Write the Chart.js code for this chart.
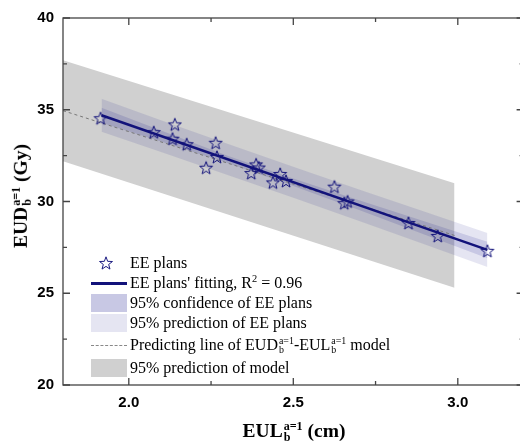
<!DOCTYPE html>
<html>
<head>
<meta charset="utf-8">
<script src="https://cdn.jsdelivr.net/npm/chart.js@4.4.1/dist/chart.umd.min.js"></script>
<style>
    html, body { margin: 0; padding: 0; background: #fff; overflow: hidden; }
    #wrap { position: relative; width: 520px; height: 448px; overflow: hidden; }
    #chart { position: absolute; left: 0; top: 0; }
    .serif { font-family: "Times New Roman", "Liberation Serif", serif; color: #000; white-space: nowrap; }
    .ss { display: inline-flex; flex-direction: column; font-size: 0.62em; line-height: 0.88; vertical-align: 0.58em; margin-left: 1px; }
    .axis-title { position: absolute; font-weight: bold; font-size: 19.5px; }
    .leg-text { position: absolute; left: 130px; font-size: 16px; line-height: 20px; }
    .leg-box { position: absolute; left: 91px; width: 36px; }
</style>
</head>
<body>
<div id="wrap">
    <canvas id="chart" width="530" height="448"></canvas>

    <div class="axis-title serif" id="yTitle" style="left:21px; top:196px; transform: translate(-50%, -50%) rotate(-90deg);">
        EUD<span class="ss"><span>a=1</span><span>b</span></span> (Gy)
    </div>
    <div class="axis-title serif" style="left:294px; top:431px; transform: translate(-50%, -50%);">
        EUL<span class="ss"><span>a=1</span><span>b</span></span> (cm)
    </div>

    <svg style="position:absolute; left:98px; top:255px;" width="16" height="16">
        <polygon id="legStar" fill="none" stroke="#1a1a80" stroke-width="1"></polygon>
    </svg>
    <div class="leg-text serif" style="top:253px;">EE plans</div>

    <div class="leg-box" style="top:282px; height:2.5px; background:#12127a;"></div>
    <div class="leg-text serif" style="top:273px;">EE plans' fitting, R<sup style="font-size:0.65em; line-height:0;">2</sup> = 0.96</div>

    <div class="leg-box" style="top:294px; height:18px; background:rgba(0,0,128,0.216);"></div>
    <div class="leg-text serif" style="top:293px;">95% confidence of EE plans</div>

    <div class="leg-box" style="top:314px; height:18px; background:rgba(0,0,128,0.1);"></div>
    <div class="leg-text serif" style="top:313px;">95% prediction of EE plans</div>

    <div class="leg-box" style="top:345px; height:0; border-top:1px dashed #888;"></div>
    <div class="leg-text serif" style="top:335px;">Predicting line of EUD<span class="ss"><span>a=1</span><span>b</span></span>-EUL<span class="ss"><span>a=1</span><span>b</span></span> model</div>

    <div class="leg-box" style="top:359px; height:18px; background:#d0d0d0;"></div>
    <div class="leg-text serif" style="top:358px;">95% prediction of model</div>
</div>

<script>
// EE plans
const eeX = [1.914, 2.076, 2.140, 2.133, 2.176, 2.264, 2.268, 2.235, 2.372, 2.387,
             2.395, 2.460, 2.438, 2.478, 2.625, 2.655, 2.665, 2.850, 2.939, 3.090];
const eeY = [34.54, 33.78, 34.20, 33.42, 33.12, 33.20, 32.43, 31.84, 31.55, 32.02,
             31.85, 31.50, 31.04, 31.12, 30.81, 29.91, 30.00, 28.83, 28.12, 27.31];

// fitted line of EE plans
const fitX = [1.917, 3.09];
const fitY = [34.70, 27.36];

// confidence / prediction bands of EE plans
const bandX     = [1.917, 2.1, 2.3, 2.5, 2.7, 2.9, 3.09];
const confUpper = [35.11, 33.85, 32.50, 31.25, 30.07, 28.91, 27.81];
const confLower = [34.29, 33.25, 32.10, 30.85, 29.53, 28.19, 26.91];
const predUpper = [35.60, 34.42, 33.15, 31.90, 30.66, 29.44, 28.29];
const predLower = [33.80, 32.68, 31.45, 30.20, 28.94, 27.66, 26.43];

// model predicting line and its 95% prediction band
const modelX     = [1.8, 2.99];
const modelLine  = [34.95, 28.15];
const modelUpper = [37.70, 31.00];
const modelLower = [32.20, 25.30];

const xTicks = [2.0, 2.5, 3.0];
const xMinor = [2.25, 2.75];
const yTicks = [20, 25, 30, 35, 40];
const yMinor = [22.5, 27.5, 32.5, 37.5];

const navy = '#12127a';

function pts(xs, ys) {
    return xs.map((x, i) => ({ x: x, y: ys[i] }));
}

function starPath(ctx, cx, cy, outer, inner) {
    ctx.beginPath();
    for (let i = 0; i < 10; i++) {
        const r = i % 2 === 0 ? outer : inner;
        const a = -Math.PI / 2 + i * Math.PI / 5;
        const px = cx + r * Math.cos(a);
        const py = cy + r * Math.sin(a);
        if (i === 0) ctx.moveTo(px, py); else ctx.lineTo(px, py);
    }
    ctx.closePath();
}

// hollow five point star used as point style
const starImg = document.createElement('canvas');
starImg.width = 16;
starImg.height = 16;
(function () {
    const c = starImg.getContext('2d');
    c.strokeStyle = navy;
    c.lineWidth = 1;
    starPath(c, 8, 8.6, 6.8, 2.8);
    c.stroke();
})();

// same star for the legend
(function () {
    const p = [];
    for (let i = 0; i < 10; i++) {
        const r = i % 2 === 0 ? 6.8 : 2.8;
        const a = -Math.PI / 2 + i * Math.PI / 5;
        p.push((8 + r * Math.cos(a)).toFixed(2) + ',' + (8.6 + r * Math.sin(a)).toFixed(2));
    }
    document.getElementById('legStar').setAttribute('points', p.join(' '));
})();

// frame with inward ticks, like Origin
const framePlugin = {
    id: 'frame',
    afterDatasetsDraw(chart) {
        const { ctx, chartArea: a, scales } = chart;
        const xs = scales.x, ys = scales.y;
        ctx.save();
        ctx.strokeStyle = '#444';
        ctx.lineWidth = 1.3;
        ctx.strokeRect(a.left, a.top, a.right - a.left, a.bottom - a.top);
        ctx.beginPath();
        const tick = (vals, len) => {
            vals.forEach(v => {
                const px = xs.getPixelForValue(v);
                ctx.moveTo(px, a.bottom); ctx.lineTo(px, a.bottom - len);
                ctx.moveTo(px, a.top); ctx.lineTo(px, a.top + len);
            });
        };
        const ytick = (vals, len) => {
            vals.forEach(v => {
                const py = ys.getPixelForValue(v);
                ctx.moveTo(a.left, py); ctx.lineTo(a.left + len, py);
                ctx.moveTo(a.right, py); ctx.lineTo(a.right - len, py);
            });
        };
        tick(xTicks, 7);
        tick(xMinor, 4);
        ytick(yTicks, 7);
        ytick(yMinor, 4);
        ctx.stroke();
        ctx.restore();
    }
};

const tickFont = { family: "Arial, 'Liberation Sans', sans-serif", size: 15, weight: 'bold' };

new Chart(document.getElementById('chart'), {
    type: 'scatter',
    data: {
        datasets: [
            {
                label: 'EE plans',
                data: pts(eeX, eeY),
                pointStyle: starImg,
                showLine: false,
                order: 0
            },
            {
                label: "EE plans' fitting",
                data: pts(fitX, fitY),
                showLine: true,
                borderColor: navy,
                borderWidth: 2.5,
                pointRadius: 0,
                order: 1
            },
            {
                label: 'Predicting line',
                data: pts(modelX, modelLine),
                showLine: true,
                borderColor: '#777',
                borderWidth: 1,
                borderDash: [3, 3],
                pointRadius: 0,
                order: 2
            },
            {
                label: 'conf upper',
                data: pts(bandX, confUpper),
                showLine: true,
                borderWidth: 0,
                pointRadius: 0,
                fill: '+1',
                backgroundColor: 'rgba(0,0,128,0.13)',
                order: 3
            },
            {
                label: 'conf lower',
                data: pts(bandX, confLower),
                showLine: true,
                borderWidth: 0,
                pointRadius: 0,
                order: 3
            },
            {
                label: 'pred upper',
                data: pts(bandX, predUpper),
                showLine: true,
                borderWidth: 0,
                pointRadius: 0,
                fill: '+1',
                backgroundColor: 'rgba(0,0,128,0.1)',
                order: 4
            },
            {
                label: 'pred lower',
                data: pts(bandX, predLower),
                showLine: true,
                borderWidth: 0,
                pointRadius: 0,
                order: 4
            },
            {
                label: 'model upper',
                data: pts(modelX, modelUpper),
                showLine: true,
                borderWidth: 0,
                pointRadius: 0,
                fill: '+1',
                backgroundColor: '#d0d0d0',
                order: 5
            },
            {
                label: 'model lower',
                data: pts(modelX, modelLower),
                showLine: true,
                borderWidth: 0,
                pointRadius: 0,
                order: 5
            }
        ]
    },
    options: {
        responsive: false,
        animation: false,
        devicePixelRatio: 1,
        layout: { padding: { top: 15, right: 6.4, left: 0, bottom: 0 } },
        plugins: {
            legend: { display: false },
            tooltip: { enabled: false }
        },
        scales: {
            x: {
                type: 'linear',
                min: 1.8,
                max: 3.2,
                grid: { display: false, drawTicks: false },
                border: { display: false },
                afterBuildTicks: s => { s.ticks = xTicks.map(v => ({ value: v })); },
                afterFit: s => { s.height = 63; },
                ticks: {
                    font: tickFont,
                    color: '#000',
                    padding: 9,
                    maxRotation: 0,
                    callback: v => Number(v).toFixed(1)
                }
            },
            y: {
                type: 'linear',
                min: 20,
                max: 40,
                grid: { display: false, drawTicks: false },
                border: { display: false },
                afterBuildTicks: s => { s.ticks = yTicks.map(v => ({ value: v })); },
                afterFit: s => { s.width = 63; },
                ticks: {
                    font: tickFont,
                    color: '#000',
                    padding: 9
                }
            }
        }
    },
    plugins: [framePlugin]
});
</script>
</body>
</html>
